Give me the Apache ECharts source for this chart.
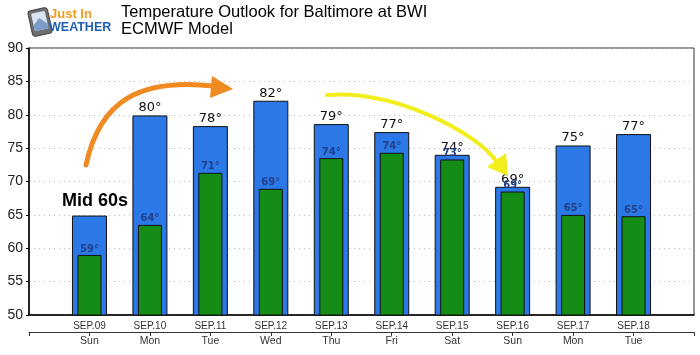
<!DOCTYPE html>
<html>
<head>
<meta charset="utf-8">
<script src="https://cdn.jsdelivr.net/npm/echarts@6/dist/echarts.min.js"></script>
<style>
html,body{margin:0;padding:0;background:#fff;}
#chart{width:700px;height:355px;}
</style>
</head>
<body>
<div id="chart"></div>
<script>
// Data
const dates = ['SEP.09','SEP.10','SEP.11','SEP.12','SEP.13','SEP.14','SEP.15','SEP.16','SEP.17','SEP.18'];
const days = ['Sun','Mon','Tue','Wed','Thu','Fri','Sat','Sun','Mon','Tue'];
const highs = [64.9, 79.9, 78.3, 82.1, 78.6, 77.4, 74.0, 69.2, 75.4, 77.1];
const lows = [59.0, 63.5, 71.3, 68.9, 73.5, 74.3, 73.3, 68.5, 65.0, 64.8];
const highLabels = [null, 80, 78, 82, 79, 77, 74, 69, 75, 77];
const lowLabels = [59, 64, 71, 69, 74, 74, 73, 69, 65, 65];
const yTicks = [50, 55, 60, 65, 70, 75, 80, 85, 90];

// pad with empty slots at both ends (axis runs edge-to-edge)
const pad = a => [''].concat(a, ['']);
const padData = a => ['-'].concat(a, ['-']);

const chart = echarts.init(document.getElementById('chart'), null, {renderer: 'canvas'});

const narrow = "'Liberation Sans Narrow', 'Liberation Sans', Arial, sans-serif";

const option = {
  animation: false,
  backgroundColor: '#fff',
  grid: {left: 29, right: 6, top: 48, bottom: 40, show: true, borderColor: '#333', borderWidth: 1, backgroundColor: 'transparent'},
  xAxis: [
    {
      type: 'category', data: pad(dates), boundaryGap: false, position: 'bottom', offset: 0,
      axisLine: {show: true, lineStyle: {color: '#000', width: 1.5}},
      axisTick: {show: false},
      axisLabel: {interval: 0, margin: 6, fontSize: 10, color: '#333', fontFamily: narrow},
      splitLine: {show: false}
    },
    {
      type: 'category', data: pad(days), boundaryGap: false, position: 'bottom', offset: 17,
      axisLine: {show: true, lineStyle: {color: '#333', width: 1}},
      axisTick: {show: true, interval: 0, length: 4, lineStyle: {color: '#333'}},
      axisLabel: {interval: 0, margin: 4, fontSize: 10.5, color: '#333', fontFamily: narrow},
      splitLine: {show: false}
    },
    {
      type: 'category', data: pad(dates), boundaryGap: false, show: false
    }
  ],
  yAxis: {
    type: 'value', min: yTicks[0], max: yTicks[yTicks.length - 1], interval: 5,
    axisLine: {show: true, lineStyle: {color: '#000', width: 1.5}},
    axisTick: {show: true, length: 3, lineStyle: {color: '#000'}},
    axisLabel: {margin: 6, fontSize: 14, color: '#222', fontFamily: "'Liberation Sans', Arial, sans-serif"},
    splitLine: {show: true, lineStyle: {color: '#bbb', type: [1, 4], width: 1}}
  },
  series: [
    {
      name: 'High', type: 'bar', xAxisIndex: 0, barWidth: 35,
      data: padData(highs),
      itemStyle: {color: '#2b78e6', borderColor: '#111', borderWidth: 1},
      label: {
        show: true, position: 'top', distance: 1,
        fontFamily: "'DejaVu Sans', sans-serif", fontSize: 13, color: '#111',
        formatter: p => {const v = highLabels[p.dataIndex - 1]; return v == null ? '' : v + '°';}
      },
      z: 2
    },
    {
      name: 'Low', type: 'bar', xAxisIndex: 2, barWidth: 24,
      data: padData(lows),
      itemStyle: {color: '#158c15', borderColor: '#111', borderWidth: 1},
      label: {
        show: true, position: 'top', distance: 1,
        fontFamily: "'DejaVu Sans', sans-serif", fontSize: 10, fontWeight: 'bold', color: '#23408a',
        formatter: p => {const v = lowLabels[p.dataIndex - 1]; return v == null ? '' : v + '°';}
      },
      z: 3
    }
  ],
  graphic: [
    // logo
    {type: 'rect', x: 40, y: 22, rotation: 0.22,
     shape: {x: -10, y: -13, width: 20, height: 26, r: 3},
     style: {fill: '#6d6d6d', stroke: '#444', lineWidth: 1}, z: 10},
    {type: 'rect', x: 40, y: 22, rotation: 0.22,
     shape: {x: -7, y: -10, width: 14, height: 18, r: 1},
     style: {fill: '#d8e4f0'}, z: 11},
    {type: 'polygon', x: 40, y: 22, rotation: 0.22,
     shape: {points: [[-7, 8], [-7, 2], [0, -4], [7, 3], [7, 8]]},
     style: {fill: '#7a9cc6'}, z: 12},
    {type: 'text', x: 50, y: 8, z: 12,
     style: {text: 'Just In', font: "bold 13px 'Liberation Sans', Arial, sans-serif", fill: '#f39a1e', textVerticalAlign: 'top'}},
    {type: 'text', x: 49, y: 21, z: 12,
     style: {text: 'WEATHER', font: "bold 12.5px 'Liberation Sans', Arial, sans-serif", fill: '#1f5fb8', textVerticalAlign: 'top'}},
    // titles
    {type: 'text', x: 121, y: 4, z: 12,
     style: {text: 'Temperature Outlook for Baltimore at BWI', font: "16.5px 'Liberation Sans', Arial, sans-serif", fill: '#000', textVerticalAlign: 'top'}},
    {type: 'text', x: 121, y: 21, z: 12,
     style: {text: 'ECMWF Model', font: "16.5px 'Liberation Sans', Arial, sans-serif", fill: '#000', textVerticalAlign: 'top'}},
    // annotation text
    {type: 'text', x: 62, y: 192, z: 12,
     style: {text: 'Mid 60s', font: "bold 18px 'Liberation Sans', Arial, sans-serif", fill: '#000', textVerticalAlign: 'top'}},
    // orange arrow
    {type: 'bezierCurve', z: 12,
     shape: {x1: 86, y1: 165, cpx1: 100, cpy1: 100, cpx2: 140, cpy2: 78, x2: 214, y2: 86},
     style: {stroke: '#f08a22', lineWidth: 5, fill: null, lineCap: 'round'}},
    {type: 'polygon', z: 12,
     shape: {points: [[233, 89], [212, 76], [210, 98]]},
     style: {fill: '#f08a22'}},
    // yellow arrow
    {type: 'bezierCurve', z: 12,
     shape: {x1: 327, y1: 95, cpx1: 395, cpy1: 90, cpx2: 476, cpy2: 132, x2: 497, y2: 162},
     style: {stroke: '#f2ee1e', lineWidth: 4, fill: null, lineCap: 'round'}},
    {type: 'polygon', z: 12,
     shape: {points: [[508, 176], [487, 167], [506, 153]]},
     style: {fill: '#f2ee1e'}}
  ]
};
chart.setOption(option);
</script>
</body>
</html>
